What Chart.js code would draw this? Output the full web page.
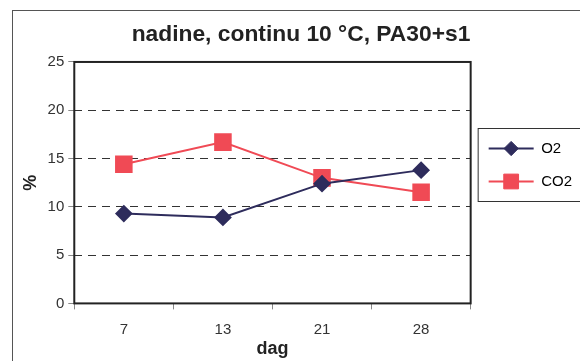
<!DOCTYPE html>
<html lang="nl">
  <head>
    <meta charset="UTF-8" />
    <title>nadine, continu 10 °C, PA30+s1</title>
    <script src="https://cdn.jsdelivr.net/npm/chart.js@4/dist/chart.umd.min.js"></script>
    <style>
      body {
        margin: 0;
        background: #fff;
        font-family: 'Liberation Sans', Arial, sans-serif;
      }
      #frame {
        position: absolute;
        left: 12px;
        top: 10px;
        width: 580px;
        height: 360px;
        border: 1px solid #555;
        box-sizing: border-box;
      }
      #wrap {
        position: absolute;
        left: 0;
        top: 0;
        width: 580px;
        height: 361px;
      }
    </style>
  </head>
  <body>
    <div id="frame"></div>
    <div id="wrap"><canvas id="chart"></canvas></div>
    <script>
      const days = ['7', '13', '21', '28']
      const o2 = [9.3, 8.9, 12.4, 13.8]
      const co2 = [14.4, 16.7, 13.0, 11.5]
      const yTicks = [0, 5, 10, 15, 20, 25]

      // move the legend up a bit, it is not centred on the plot in the original
      const legendShift = {
        id: 'legendShift',
        afterLayout(chart) {
          chart.legend.top -= 15
          chart.legend.bottom -= 15
        }
      }

      // border round the plot area, legend box and the legend markers
      const boxes = {
        id: 'boxes',
        afterDraw(chart) {
          const ctx = chart.ctx
          const a = chart.chartArea
          ctx.save()
          ctx.strokeStyle = '#222'
          ctx.lineWidth = 2
          ctx.strokeRect(a.left, a.top, a.right - a.left, a.bottom - a.top)

          const hb = chart.legend.legendHitBoxes
          const bw = chart.legend.options.labels.boxWidth
          const top = Math.min(...hb.map(h => h.top))
          const bottom = Math.max(...hb.map(h => h.top + h.height))
          ctx.lineWidth = 1
          ctx.strokeStyle = '#333'
          ctx.strokeRect(hb[0].left - 10.5, top - 12.5, 106, bottom - top + 25)

          hb.forEach((h, i) => {
            const ds = chart.data.datasets[i]
            ctx.fillStyle = ds.backgroundColor
            ctx.strokeStyle = ds.borderColor
            Chart.helpers.drawPoint(
              ctx,
              { pointStyle: ds.pointStyle, radius: ds.pointRadius * 0.95, borderWidth: 1 },
              h.left + bw / 2,
              h.top + h.height / 2
            )
          })
          ctx.restore()
        }
      }

      new Chart(document.getElementById('chart'), {
        type: 'line',
        data: {
          labels: days,
          datasets: [
            {
              label: 'O2',
              data: o2,
              borderColor: '#2e2c5c',
              backgroundColor: '#2e2c5c',
              borderWidth: 2,
              pointStyle: 'rectRot',
              pointRadius: 7.5,
              pointHoverRadius: 7.5
            },
            {
              label: 'CO2',
              data: co2,
              borderColor: '#f04a55',
              backgroundColor: '#f04a55',
              borderWidth: 2,
              pointStyle: 'rect',
              pointRadius: 11,
              pointHoverRadius: 11
            }
          ]
        },
        options: {
          responsive: true,
          maintainAspectRatio: false,
          animation: false,
          layout: { padding: { left: 20, right: -2, top: 0, bottom: 1 } },
          plugins: {
            title: {
              display: true,
              text: 'nadine, continu 10 °C, PA30+s1',
              color: '#222',
              font: { family: 'Liberation Sans', size: 22.8, weight: 'bold' },
              padding: { top: 21.5, bottom: 13.1 }
            },
            legend: {
              position: 'right',
              labels: {
                boxWidth: 45,
                boxHeight: 0,
                color: '#222',
                font: { family: 'Liberation Sans', size: 15 },
                padding: 18,
                generateLabels(chart) {
                  return chart.data.datasets.map((d, i) => ({
                    text: d.label,
                    fillStyle: d.backgroundColor,
                    strokeStyle: d.borderColor,
                    lineWidth: 2,
                    datasetIndex: i
                  }))
                }
              }
            },
            tooltip: { enabled: false }
          },
          scales: {
            x: {
              offset: true,
              grid: {
                display: true,
                drawOnChartArea: false,
                offset: true,
                color: '#888',
                tickLength: 6
              },
              border: { display: false },
              ticks: {
                color: '#333',
                font: { family: 'Liberation Sans', size: 15 },
                padding: 11
              },
              title: {
                display: true,
                text: 'dag',
                color: '#222',
                font: { family: 'Liberation Sans', size: 18, weight: 'bold' },
                padding: { top: -11, bottom: 0 }
              }
            },
            y: {
              min: 0,
              max: 25,
              afterBuildTicks(scale) {
                scale.ticks = yTicks.map(v => ({ value: v }))
              },
              grid: {
                color: '#333',
                tickColor: '#888',
                tickLength: 6,
                lineWidth: 1
              },
              border: { display: false, dash: [8, 6] },
              ticks: {
                color: '#333',
                font: { family: 'Liberation Sans', size: 15 },
                padding: 4
              },
              title: {
                display: true,
                text: '%',
                color: '#222',
                font: { family: 'Liberation Sans', size: 18, weight: 'bold' },
                padding: { top: 0, bottom: 2 }
              }
            }
          }
        },
        plugins: [legendShift, boxes]
      })
    </script>
  </body>
</html>
